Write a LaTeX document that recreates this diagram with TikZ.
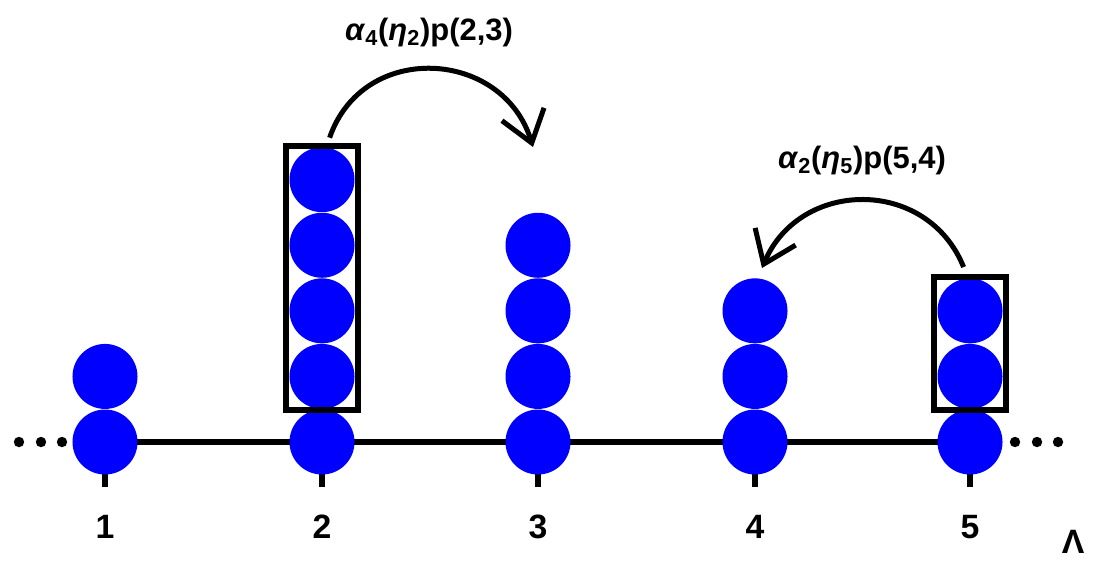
\documentclass[tikz,border=0pt]{standalone}
\usepackage{fontspec}
\setmainfont{Liberation Sans}
\usetikzlibrary{arrows.meta,positioning,fit}
\definecolor{BallBlue}{HTML}{0000FF}
\definecolor{Ink}{HTML}{000000}

\begin{document}
\begin{tikzpicture}[x=0.025cm,y=0.025cm,every node/.style={font=\fontsize{22}{26}\selectfont\bfseries,text=Ink},ball/.style={circle,fill=BallBlue,minimum size=1.625cm,inner sep=0pt},num/.style={anchor=north,inner sep=0pt,font=\fontsize{24}{28}\selectfont\bfseries},pick/.style={draw=Ink,line width=0.15cm,inner xsep=0.09cm,inner ysep=0.03cm},hop/.style={-{Straight Barb[length=0.75cm,width=1.1cm,line width=0.125cm]},line width=0.125cm,draw=Ink},rail/.style={line width=0.16cm,draw=Ink},dot/.style={circle,fill=Ink,minimum size=0.26cm,inner sep=0pt}]
\useasboundingbox (0,-560) rectangle (1095,0);

\coordinate (s1) at (105,-442); \coordinate (s2) at (322,-442); \coordinate (s3) at (538,-442); \coordinate (s4) at (755,-442); \coordinate (s5) at (970,-442);
\draw[rail] (s1) -- (s5);
\draw[rail,line width=0.17cm] (s1) -- ++(0,-45); \draw[rail,line width=0.17cm] (s2) -- ++(0,-45); \draw[rail,line width=0.17cm] (s3) -- ++(0,-45); \draw[rail,line width=0.17cm] (s4) -- ++(0,-45); \draw[rail,line width=0.17cm] (s5) -- ++(0,-45);
\node[dot] (dl1) at (19,-442) {}; \node[dot] (dl2) at (41,-442) {}; \node[dot] (dl3) at (62,-442) {};
\node[dot] (dr1) at (1015,-442) {}; \node[dot] (dr2) at (1037,-442) {}; \node[dot] (dr3) at (1058,-442) {};

% particle stacks
\node[ball] (b11) at (s1) {}; \node[ball,above=0pt of b11] (b12) {};
\node[ball] (b21) at (s2) {}; \node[ball,above=0pt of b21] (b22) {}; \node[ball,above=0pt of b22] (b23) {}; \node[ball,above=0pt of b23] (b24) {}; \node[ball,above=0pt of b24] (b25) {};
\node[ball] (b31) at (s3) {}; \node[ball,above=0pt of b31] (b32) {}; \node[ball,above=0pt of b32] (b33) {}; \node[ball,above=0pt of b33] (b34) {};
\node[ball] (b41) at (s4) {}; \node[ball,above=0pt of b41] (b42) {}; \node[ball,above=0pt of b42] (b43) {};
\node[ball] (b51) at (s5) {}; \node[ball,above=0pt of b51] (b52) {}; \node[ball,above=0pt of b52] (b53) {};

\node[pick,fit=(b22)(b25)] (box2) {}; \node[pick,fit=(b52)(b53)] (box5) {};

% jumps
\coordinate (from2) at ([xshift=0.19cm,yshift=0.125cm]box2.north); \coordinate (to3) at (533,-147);
\coordinate (from5) at ([xshift=-0.16cm,yshift=0.17cm]box5.north); \coordinate (to4) at (762,-268);
\draw[hop] (from2) to[out=71,in=107,looseness=1.29] (to3);
\draw[hop] (from5) to[out=112,in=67,looseness=1.23] (to4);
\node (rate23) at (429,-32.5) {\textit{α}\textsubscript{4}(\textit{η}\textsubscript{2})p(2,3)};
\node (rate54) at (862,-160.5) {\textit{α}\textsubscript{2}(\textit{η}\textsubscript{5})p(5,4)};

\node[num] (n1) at (105,-515) {1}; \node[num] (n2) at (322,-515) {2}; \node[num] (n3) at (538,-515) {3}; \node[num] (n4) at (755,-515) {4}; \node[num] (n5) at (970,-515) {5};
\node[num] (lam) at (1073,-530) {Λ};

\end{tikzpicture}
\end{document}
